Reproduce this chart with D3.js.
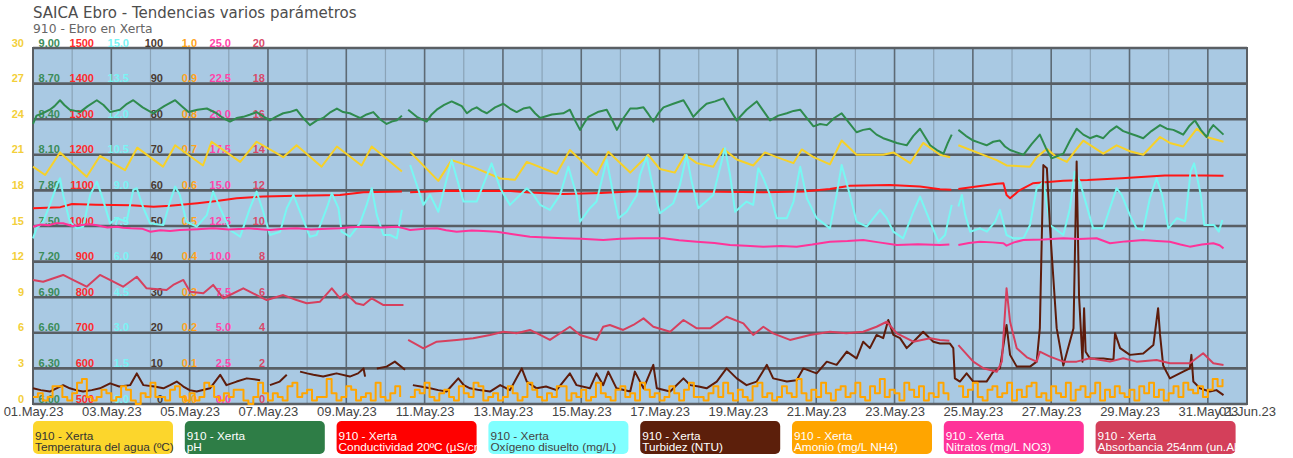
<!DOCTYPE html>
<html><head><meta charset="utf-8">
<script src="https://cdn.jsdelivr.net/npm/d3@7"></script>
<style>
body{margin:0;background:#fff;}
svg{display:block;}
</style></head><body>
<svg id="chart" width="1293" height="458"></svg>
<script>
// ---------------- DATA (time = days since 01.May.2023 00:00) ----------------
const titulo = "SAICA Ebro - Tendencias varios parámetros";
const subtitulo = "910 - Ebro en Xerta";
const estacion = "910 - Xerta";
const parametros = ["Temperatura del agua (ºC)","pH","Conductividad 20ºC (µS/cm)","Oxígeno disuelto (mg/L)","Turbidez (NTU)","Amonio (mg/L NH4)","Nitratos (mg/L NO3)","Absorbancia 254nm (un.Abs/m)"];

const temperatura = [[0,20.0],[0.31,19.3],[0.69,21.2],[1.37,19.15],[1.71,20.9],[2.35,19.7],[2.66,21.6],[3.32,20.0],[3.63,21.8],[4.34,20.1],[4.56,22.1],[5.29,20.4],[5.71,22.1],[6.39,20.8],[6.73,21.8],[7.37,20.0],[7.76,21.7],[8.39,20.1],[8.65,21.7],[9.42,19.6],[9.5,null],[9.63,21.25],[10.35,18.8],[10.69,20.55],[11.29,19.9],[11.93,19.0],[12.31,18.9],[12.61,20.4],[13.37,19.4],[13.71,21.4],[14.39,19.3],[14.69,21.25],[15.25,19.5],[15.71,21.0],[16.01,19.8],[16.39,19.5],[16.65,21.0],[16.95,20.3],[17.37,20.0],[17.63,21.5],[17.97,20.6],[18.39,20.1],[18.69,21.2],[18.99,20.8],[19.42,20.3],[19.63,21.45],[19.93,20.8],[20.35,20.2],[20.65,22.2],[21.03,21.0],[21.71,21.0],[21.97,21.2],[22.40,20.3],[22.73,22.0],[23.16,21.0],[23.42,20.8],[23.5,null],[23.63,21.8],[24.18,21.1],[24.61,20.55],[24.86,20.1],[25.46,20.0],[25.63,20.8],[25.89,21.5],[26.14,20.8],[26.40,20.4],[26.65,21.5],[26.82,22.2],[27.33,21.1],[27.67,21.8],[28.01,21.3],[28.35,21.0],[28.78,22.5],[29.03,22.0],[29.37,21.7],[29.72,23.2],[29.97,22.5],[30.40,22.1]];

const ph = [[0,8.36],[0.09,8.43],[0.25,8.45],[0.43,8.48],[0.55,8.51],[0.69,8.56],[0.8,8.52],[0.94,8.48],[1.08,8.47],[1.20,8.46],[1.4,8.51],[1.63,8.56],[1.8,8.52],[1.97,8.46],[2.1,8.47],[2.22,8.48],[2.4,8.53],[2.56,8.56],[2.8,8.50],[3.07,8.45],[3.35,8.51],[3.63,8.56],[3.8,8.51],[3.97,8.46],[4.2,8.48],[4.44,8.49],[4.69,8.45],[4.85,8.41],[5.03,8.38],[5.2,8.41],[5.37,8.42],[5.55,8.44],[5.71,8.46],[5.9,8.42],[6.05,8.39],[6.2,8.42],[6.39,8.45],[6.55,8.46],[6.73,8.48],[6.9,8.41],[7.07,8.35],[7.25,8.39],[7.41,8.41],[7.6,8.46],[7.76,8.49],[7.92,8.46],[8.09,8.45],[8.22,8.43],[8.35,8.41],[8.52,8.44],[8.69,8.46],[8.86,8.40],[9.03,8.36],[9.16,8.38],[9.29,8.39],[9.42,8.43],[9.5,null],[9.58,8.48],[9.80,8.42],[10.05,8.38],[10.18,8.44],[10.31,8.48],[10.5,8.52],[10.69,8.55],[10.82,8.53],[10.95,8.51],[11.08,8.45],[11.2,8.48],[11.33,8.50],[11.46,8.47],[11.59,8.45],[11.8,8.50],[12.01,8.53],[12.18,8.49],[12.35,8.46],[12.52,8.49],[12.69,8.50],[12.82,8.45],[12.95,8.41],[13.25,8.44],[13.54,8.45],[13.71,8.48],[13.84,8.39],[13.97,8.31],[14.08,8.37],[14.18,8.42],[14.42,8.46],[14.65,8.48],[14.78,8.40],[14.91,8.31],[15.08,8.41],[15.25,8.49],[15.42,8.49],[15.59,8.50],[15.72,8.44],[15.84,8.38],[15.97,8.45],[16.10,8.50],[16.35,8.53],[16.61,8.56],[16.74,8.49],[16.86,8.42],[17.03,8.48],[17.20,8.53],[17.42,8.55],[17.63,8.575],[17.8,8.48],[17.97,8.39],[18.22,8.48],[18.48,8.55],[18.65,8.47],[18.82,8.39],[19.03,8.43],[19.25,8.45],[19.42,8.47],[19.59,8.48],[19.76,8.41],[19.93,8.34],[20.1,8.36],[20.27,8.35],[20.46,8.41],[20.65,8.45],[20.84,8.37],[21.03,8.29],[21.2,8.31],[21.37,8.32],[21.54,8.27],[21.71,8.24],[21.88,8.22],[22.06,8.20],[22.18,8.19],[22.31,8.18],[22.48,8.26],[22.65,8.32],[22.78,8.25],[22.91,8.18],[23.08,8.14],[23.25,8.11],[23.36,8.20],[23.46,8.27],[23.5,null],[23.63,8.31],[23.82,8.26],[24.01,8.22],[24.18,8.20],[24.35,8.18],[24.52,8.21],[24.69,8.22],[24.82,8.17],[24.95,8.14],[25.12,8.12],[25.29,8.10],[25.5,8.19],[25.71,8.27],[25.86,8.16],[26.01,8.07],[26.16,8.09],[26.31,8.11],[26.48,8.22],[26.65,8.32],[26.82,8.27],[26.99,8.24],[27.16,8.26],[27.33,8.24],[27.5,8.30],[27.67,8.34],[27.84,8.30],[28.01,8.28],[28.18,8.26],[28.35,8.24],[28.56,8.30],[28.78,8.35],[28.95,8.32],[29.12,8.31],[29.25,8.29],[29.37,8.27],[29.52,8.34],[29.67,8.39],[29.82,8.31],[29.97,8.25],[30.05,8.31],[30.14,8.35],[30.27,8.31],[30.40,8.27]];

const conductividad = [[0,1050],[0.7,1053],[1.0,1062],[1.6,1060],[2.5,1058],[3.08,1054],[3.5,1057],[4.2,1064],[4.69,1070],[5.2,1078],[5.88,1083],[6.73,1085],[7.84,1087],[8.0,1089],[8.44,1095],[9.42,1097],[9.5,null],[9.63,1095],[10.56,1099],[12.2,1098],[12.69,1094],[13.54,1090],[14.5,1093],[15.25,1097],[17.0,1097],[18.65,1095],[19.67,1097],[20.35,1104],[20.86,1113],[21.88,1115],[22.65,1111],[23.16,1103],[23.45,1102],[23.5,null],[23.63,1104],[24.61,1119],[24.78,1120],[24.86,1087],[24.95,1078],[25.2,1101],[25.53,1120],[26.31,1127],[26.93,1129],[27.8,1134],[28.9,1142],[29.9,1142],[30.4,1141]];

const oxigeno = [[0,6.98],[0.09,7.40],[0.26,7.68],[0.43,8.39],[0.61,9.23],[0.69,9.51],[0.77,8.81],[0.94,7.68],[1.12,7.40],[1.28,7.47],[1.46,8.81],[1.63,9.37],[1.75,8.81],[1.97,7.61],[2.14,7.83],[2.39,7.68],[2.56,9.02],[2.65,9.09],[2.82,8.25],[2.99,7.61],[3.33,7.54],[3.50,8.53],[3.63,9.16],[3.75,8.81],[3.92,7.68],[4.18,7.47],[4.44,7.96],[4.60,8.95],[4.78,8.25],[5.03,7.33],[5.29,7.05],[5.54,8.25],[5.71,8.95],[5.88,8.10],[6.05,7.12],[6.31,7.26],[6.48,8.25],[6.65,8.81],[6.82,8.10],[7.07,7.05],[7.24,7.12],[7.50,8.25],[7.63,8.88],[7.80,8.25],[7.88,7.26],[8.09,7.05],[8.35,7.61],[8.52,8.39],[8.65,9.09],[8.78,7.96],[8.95,7.12],[9.12,7.12],[9.29,6.98],[9.42,8.18],[9.5,null],[9.63,10.07],[9.97,8.39],[10.14,8.81],[10.35,8.10],[10.69,10.28],[10.99,8.53],[11.33,8.53],[11.71,10.14],[11.93,9.09],[12.18,8.39],[12.61,9.09],[12.78,8.81],[12.95,8.39],[13.20,8.18],[13.46,8.81],[13.67,10.0],[13.88,8.81],[13.97,7.68],[14.22,8.25],[14.39,8.53],[14.65,10.28],[14.82,8.81],[14.95,7.83],[15.16,8.10],[15.42,8.81],[15.50,9.65],[15.67,10.42],[15.80,9.37],[16.01,8.04],[16.35,8.46],[16.52,9.23],[16.69,10.49],[16.82,9.37],[16.99,8.25],[17.37,8.81],[17.54,9.93],[17.67,10.78],[17.80,9.65],[17.93,8.10],[18.22,8.53],[18.39,8.39],[18.52,9.93],[18.65,9.51],[18.82,8.81],[18.99,7.83],[19.25,7.83],[19.42,8.53],[19.59,10.0],[19.76,8.67],[20.01,7.83],[20.35,7.40],[20.52,8.81],[20.65,10.07],[20.86,8.81],[21.03,7.68],[21.29,7.47],[21.46,7.83],[21.63,8.18],[21.80,7.83],[21.97,7.26],[22.22,6.98],[22.48,8.10],[22.65,8.74],[22.91,7.68],[23.12,6.84],[23.29,7.12],[23.46,8.39],[23.5,null],[23.63,8.32],[23.72,8.81],[23.80,8.0],[23.93,7.26],[24.18,7.40],[24.36,7.26],[24.57,7.68],[24.69,8.18],[24.86,7.12],[25.03,6.98],[25.29,6.98],[25.46,7.54],[25.63,9.09],[25.80,9.37],[25.97,7.54],[26.31,7.12],[26.48,8.25],[26.60,9.79],[26.73,9.37],[26.90,8.39],[27.07,7.40],[27.33,7.40],[27.50,8.25],[27.67,9.09],[27.80,8.81],[28.01,7.96],[28.18,7.40],[28.35,7.33],[28.52,8.67],[28.69,9.51],[28.83,8.81],[28.99,7.40],[29.21,7.83],[29.42,7.70],[29.56,9.79],[29.65,10.14],[29.82,8.81],[29.91,7.54],[30.16,7.54],[30.28,7.26],[30.37,7.75]];

const turbidez = [[0,4.4],[0.2,3.9],[0.43,3.5],[0.6,4.4],[0.77,5.3],[0.94,4.4],[1.1,3.9],[1.28,3.5],[1.5,3.9],[1.71,4.4],[1.97,5.8],[2.2,4.9],[2.48,5.3],[2.65,8.6],[2.82,5.3],[3.1,4.9],[3.33,4.4],[3.5,5.3],[3.67,6.3],[3.84,4.9],[4.0,3.9],[4.18,3.5],[4.52,4.4],[4.78,8.2],[4.94,5.3],[5.20,6.3],[5.46,7.2],[5.80,6.7],[5.9,null],[6.05,5.3],[6.3,6.3],[6.48,8.2],[6.6,null],[6.82,9.1],[7.0,8.6],[7.16,8.2],[7.41,7.7],[7.6,8.2],[7.75,8.6],[8.09,7.7],[8.3,8.6],[8.44,10.0],[8.48,7.7],[8.6,null],[8.78,10.0],[9.03,10.5],[9.24,11.9],[9.50,9.6],[9.55,null],[9.70,5.3],[9.9,4.9],[10.14,4.4],[10.35,3.9],[10.56,3.5],[10.86,7.2],[11.0,5.3],[11.16,4.4],[11.4,3.9],[11.67,3.5],[11.93,5.3],[12.18,3.9],[12.48,10.0],[12.61,6.3],[12.86,4.4],[13.1,4.9],[13.37,3.9],[13.71,8.6],[13.88,5.3],[14.22,4.4],[14.39,8.6],[14.56,5.3],[14.69,9.1],[14.90,4.4],[15.25,3.5],[15.37,9.1],[15.59,4.4],[15.84,11.0],[15.93,4.4],[16.27,3.5],[16.61,7.2],[16.78,5.3],[17.0,4.9],[17.20,4.4],[17.46,6.3],[17.71,10.0],[17.97,7.2],[18.22,5.3],[18.48,6.3],[18.74,11.0],[18.90,7.2],[19.25,6.3],[19.50,6.7],[19.67,10.0],[20.01,8.6],[20.27,11.9],[20.52,11.0],[20.78,14.7],[21.03,12.8],[21.20,17.5],[21.37,15.7],[21.54,19.4],[21.71,18.5],[21.84,23.6],[21.97,19.4],[22.14,18.5],[22.31,15.7],[22.48,17.5],[22.73,20.3],[22.99,17.5],[23.16,17.0],[23.41,17.0],[23.50,15.7],[23.54,7.2],[23.67,6.3],[23.84,8.6],[24.01,6.3],[24.35,6.3],[24.52,9.1],[24.69,10.0],[24.86,22.2],[24.95,13.8],[25.12,10.5],[25.46,10.5],[25.63,11.9],[25.71,21.3],[25.80,67.1],[25.89,66.2],[25.97,49.4],[26.14,21.3],[26.31,10.8],[26.57,21.3],[26.65,68.1],[26.71,30.6],[26.80,11.9],[26.84,26.9],[26.88,14.7],[26.99,12.8],[27.33,12.8],[27.59,12.4],[27.63,19.9],[27.76,15.7],[28.01,13.8],[28.35,14.2],[28.61,16.6],[28.73,26.9],[28.78,19.4],[28.86,10.8],[29.03,7.2],[29.37,9.1],[29.54,10.0],[29.58,13.8],[29.63,6.3],[29.80,4.4],[30.05,3.5],[30.22,3.9],[30.40,2.5]];

// Amonio: one value every 3 hours from 01.May 00:00
const amonio = [
0.02,0.03,0.01,0.02,0.05,0.05,0.02,0.01, 0.03,0.06,0.07,0.02,0.01,0.02,0.04,0.03,
0.01,0.02,0.05,0.04,0.01,0.00,0.03,0.02, 0.06,0.02,0.02,0.01,0.04,0.05,0.02,0.01,
0.03,0.01,0.02,0.06,0.05,0.02,0.01,0.03, 0.02,0.04,0.04,0.01,0.00,0.02,0.06,0.03,
0.01,0.03,0.02,0.01,0.05,0.06,0.02,0.03, 0.04,0.01,0.02,0.02,0.07,0.03,0.01,0.02,
0.05,0.04,0.01,0.02,0.03,0.01,0.06,0.02, 0.01,0.03,0.05,0.02,null,0.02,0.04,0.03,
0.06,0.02,0.01,0.03,0.04,0.02,0.01,0.05, 0.03,0.02,0.06,0.05,0.01,0.02,0.03,0.01,
0.02,0.05,0.03,0.01,0.02,0.06,0.04,0.02, 0.01,0.03,0.02,0.05,0.05,0.01,0.03,0.02,
0.04,0.01,0.02,0.06,0.03,0.02,0.01,0.04, 0.05,0.02,0.03,0.01,0.06,0.04,0.02,0.03,
0.01,0.02,0.05,0.03,0.01,0.04,0.06,0.02, 0.02,0.01,0.03,0.05,0.02,0.06,0.03,0.01,
0.04,0.02,0.01,0.05,0.06,0.02,0.03,0.01, 0.02,0.05,0.03,0.02,0.07,0.03,0.01,0.04,
0.02,0.06,0.03,0.01,0.04,0.05,0.02,0.03, 0.06,0.02,0.01,0.05,0.03,0.07,0.02,0.04,
0.03,0.01,0.06,0.04,0.02,0.05,0.01,0.03, 0.02,0.06,0.03,0.01,null,0.05,0.02,0.04,
0.06,0.02,0.01,0.04,0.05,0.02,0.03,0.06, 0.01,0.04,0.02,0.05,0.06,0.02,0.03,0.01,
0.05,0.03,0.02,0.06,0.01,0.04,0.05,0.02, 0.03,0.06,0.01,0.04,0.02,0.05,0.03,0.02,
0.04,0.01,0.05,0.03,0.06,0.02,0.04,0.01, 0.03,0.05,0.02,0.06,0.04,0.03,0.05,0.02,
0.04,0.07,0.05,0.07];
const amonioPasoHoras = 3;

const nitratos = [[0,12.45],[0.2,12.6],[0.4,12.55],[0.6,12.7],[0.77,12.69],[1.0,12.5],[1.2,12.55],[1.4,12.62],[1.6,12.57],[1.9,12.4],[2.14,12.45],[2.3,12.38],[2.5,12.34],[2.8,12.30],[3.0,12.10],[3.25,12.2],[3.5,12.15],[3.75,12.22],[4.2,12.28],[4.6,12.34],[5.0,12.25],[5.4,12.30],[5.5,12.34],[6.05,12.22],[6.4,12.3],[6.73,12.34],[7.1,12.25],[7.5,12.30],[7.84,12.34],[8.1,12.42],[8.44,12.45],[8.9,12.4],[9.29,12.45],[9.45,12.35],[9.63,12.22],[10.0,12.3],[10.31,12.34],[10.55,12.2],[10.82,12.10],[11.2,12.18],[11.5,12.15],[11.84,12.10],[12.3,11.9],[12.69,11.75],[13.1,11.7],[13.54,11.64],[14.0,11.6],[14.56,11.52],[15.0,11.6],[15.5,11.64],[16.1,11.64],[16.5,11.5],[16.95,11.40],[17.4,11.3],[17.8,11.17],[18.2,11.12],[18.65,11.05],[19.1,11.1],[19.5,11.05],[19.9,11.2],[20.35,11.40],[20.8,11.45],[21.2,11.52],[21.6,11.35],[22.06,11.17],[22.6,11.22],[23.16,11.17],[23.4,11.2],[23.5,null],[23.63,11.17],[23.9,11.3],[24.18,11.40],[24.5,11.35],[24.78,11.29],[24.86,11.12],[25.05,11.35],[25.29,11.52],[25.8,11.55],[26.31,11.64],[26.7,11.58],[27.16,11.64],[27.5,11.29],[27.9,11.42],[28.35,11.52],[28.7,11.45],[29.03,11.40],[29.3,11.2],[29.54,11.05],[29.85,11.2],[30.14,11.29],[30.3,11.15],[30.4,10.93]];

const absorbancia = [[0,6.97],[0.26,6.87],[0.77,7.25],[1.02,6.97],[1.37,6.59],[1.71,7.25],[2.05,6.87],[2.30,6.59],[2.65,7.15],[2.90,6.50],[3.41,6.40],[3.58,6.69],[3.84,6.97],[4.01,6.31],[4.35,6.22],[4.60,6.69],[4.86,5.94],[5.37,6.50],[5.71,6.12],[5.97,5.84],[6.39,6.12],[6.73,5.84],[6.99,5.66],[7.33,5.75],[7.63,6.50],[7.84,5.94],[7.99,6.22],[8.25,5.66],[8.44,5.56],[8.65,5.94],[8.95,5.56],[9.46,5.56],[9.5,null],[9.58,3.60],[9.97,3.13],[10.31,3.50],[10.82,3.60],[11.24,3.69],[11.67,3.88],[12.01,4.06],[12.35,3.97],[12.69,4.16],[12.95,3.88],[13.20,3.60],[13.71,4.34],[13.97,3.88],[14.39,3.60],[14.56,4.34],[14.73,4.44],[15.07,4.16],[15.33,4.44],[15.59,4.81],[15.84,4.34],[16.27,4.06],[16.61,4.72],[16.95,4.25],[17.29,4.25],[17.71,4.90],[18.14,4.53],[18.39,3.88],[18.65,4.34],[18.90,3.97],[19.33,3.60],[19.84,3.88],[20.35,4.06],[20.77,3.97],[21.20,4.06],[21.54,4.34],[21.80,4.62],[22.06,3.97],[22.48,3.50],[22.91,3.69],[23.16,3.60],[23.4,3.55],[23.5,null],[23.63,3.31],[24.01,2.38],[24.27,2.01],[24.61,1.81],[24.74,2.38],[24.86,6.50],[24.95,4.62],[25.12,3.13],[25.38,2.62],[25.63,2.38],[25.71,2.94],[25.97,2.66],[26.31,2.38],[26.65,2.38],[26.99,2.57],[27.50,2.38],[27.84,2.57],[28.18,2.38],[28.69,2.47],[29.03,2.29],[29.54,2.29],[29.88,2.85],[30.14,2.29],[30.40,2.19]];

// Tick labels of the eight left-hand scales (bottom to top)
const ejeTemp = [0,3,6,9,12,15,18,21,24,27,30];
const ejePH = [6.00,6.30,6.60,6.90,7.20,7.50,7.80,8.10,8.40,8.70,9.00];
const ejeCond = [500,600,700,800,900,1000,1100,1200,1300,1400,1500];
const ejeOxi = [0,1.5,3.0,4.5,6.0,7.5,9.0,10.5,12.0,13.5,15.0];
const ejeTurb = [0,10,20,30,40,50,60,70,80,90,100];
const ejeAmon = [0,0.1,0.2,0.3,0.4,0.5,0.6,0.7,0.8,0.9,1.0];
const ejeNitr = [0,2.5,5.0,7.5,10.0,12.5,15.0,17.5,20.0,22.5,25.0];
const ejeAbs = [0,2,4,6,8,10,12,14,16,18,20];

// ---------------- CHART ----------------
const W = 1293, H = 458;
const M = {l:33, r:1247, t:48, b:404};
const t0 = Date.UTC(2023,4,1), t1 = Date.UTC(2023,5,1);
const toDate = d => new Date(t0 + d*864e5);
const x = d3.scaleUtc().domain([t0, t1]).range([M.l, M.r]);

const svg = d3.select("#chart");
const SANS = "'Liberation Sans', Arial, sans-serif";
const WIDE = "'DejaVu Sans', Verdana, sans-serif";

svg.append("text").attr("x",33).attr("y",18).attr("font-family",WIDE).attr("font-size",15)
  .attr("fill","#4d4d4d").text(titulo);
svg.append("text").attr("x",33).attr("y",33).attr("font-family",WIDE).attr("font-size",12.3)
  .attr("fill","#666").text(subtitulo);

// plot background
svg.append("rect").attr("x",M.l).attr("y",M.t).attr("width",M.r-M.l).attr("height",M.b-M.t).attr("fill","#a9c9e3");

const series = [
  {data:temperatura, dom:[0,30], ticks:ejeTemp, fmt:d3.format("d"), ax:24, line:"#f7d128", lab:"#f3cf3a", box:"#fcd62c", txt:"#333"},
  {data:ph, dom:[6,9], ticks:ejePH, fmt:d3.format(".2f"), ax:60, line:"#2f8b4e", lab:"#3b8c59", box:"#2e7d46", txt:"#fff"},
  {data:conductividad, dom:[500,1500], ticks:ejeCond, fmt:d3.format("d"), ax:94, line:"#ff1616", lab:"#ff2b2b", box:"#ff0000", txt:"#fff"},
  {data:oxigeno, dom:[0,15], ticks:ejeOxi, fmt:d3.format(".1f"), ax:129, line:"#78f7f2", lab:"#7af4f4", box:"#80ffff", txt:"#444"},
  {data:turbidez, dom:[0,100], ticks:ejeTurb, fmt:d3.format("d"), ax:163, line:"#5e1c0b", lab:"#4a3a31", box:"#5c1f0b", txt:"#fff"},
  {data:amonio.map((v,i)=>[i*amonioPasoHoras/24, v]), dom:[0,1], ticks:ejeAmon, fmt:d3.format(".1f"), ax:197, line:"#ffa500", lab:"#ffa31a", box:"#ffa500", txt:"#fff", step:true},
  {data:nitratos, dom:[0,25], ticks:ejeNitr, fmt:d3.format(".1f"), ax:231, line:"#ff3399", lab:"#ff45a8", box:"#ff3399", txt:"#fff"},
  {data:absorbancia, dom:[0,20], ticks:ejeAbs, fmt:d3.format("d"), ax:265, line:"#d6405e", lab:"#d84a68", box:"#d43f5a", txt:"#fff"}
];
series.forEach((s,i)=>{ s.y = d3.scaleLinear().domain(s.dom).range([M.b, M.t]); s.name = parametros[i]; });

// grid: vertical day lines (odd days darker)
const days = d3.utcDay.range(new Date(t0), new Date(t1+1));
svg.append("g").selectAll("line").data(days).join("line")
  .attr("x1",d=>x(d)).attr("x2",d=>x(d)).attr("y1",M.t).attr("y2",M.b)
  .attr("stroke",d=> d.getUTCDate()%2===1 ? "#5d6a75" : "#8aa3b7")
  .attr("stroke-width",d=> d.getUTCDate()%2===1 ? 1.6 : 1.2);
// grid: horizontal lines
const yT = series[0].y;
svg.append("g").selectAll("line").data(ejeTemp).join("line")
  .attr("x1",M.l).attr("x2",M.r).attr("y1",d=>yT(d)).attr("y2",d=>yT(d))
  .attr("stroke","#585e64").attr("stroke-width",2.6);
svg.append("rect").attr("x",M.l).attr("y",M.t).attr("width",M.r-M.l).attr("height",M.b-M.t)
  .attr("fill","none").attr("stroke","#5a5f64").attr("stroke-width",2);

// y-axis labels (8 scales)
series.forEach(s=>{
  const g = svg.append("g").attr("transform",`translate(${s.ax},0)`)
    .call(d3.axisLeft(s.y).tickValues(s.ticks).tickFormat(s.fmt).tickSize(0).tickPadding(0));
  g.select(".domain").remove();
  g.selectAll("text").attr("dy",-2).attr("fill",s.lab)
    .attr("font-family",SANS).attr("font-size",11).attr("font-weight","bold");
});

// lines
series.forEach(s=>{
  const line = d3.line().defined(p=>p[1]!=null)
    .x(p=>x(toDate(p[0]))).y(p=>s.y(p[1]))
    .curve(s.step ? d3.curveStepAfter : d3.curveLinear);
  svg.append("path").datum(s.data).attr("d",line).attr("fill","none")
    .attr("stroke",s.line).attr("stroke-width",2).attr("stroke-linejoin","round");
});

// x axis (every 2 days; last label kept inside the picture)
const xt = d3.utcDay.every(2).range(new Date(t0), new Date(t1 + 2*864e5));
const fmtX = d3.utcFormat("%d.%b.%y");
const gx = svg.append("g").attr("transform",`translate(0,${M.b})`)
  .call(d3.axisBottom(x).tickValues(xt).tickFormat(fmtX).tickSize(0).tickPadding(3));
gx.select(".domain").remove();
gx.selectAll("text").attr("font-family",SANS).attr("font-size",13).attr("fill","#444");
gx.selectAll(".tick").filter(d=> +d > t1).attr("transform",`translate(${W-3},0)`)
  .select("text").attr("text-anchor","end");

// legend
const lg = svg.append("g");
series.forEach((s,i)=>{
  const bx = 33 + i*151.8, by = 421, bw = 140, bh = 33;
  const clipId = "clip"+i;
  svg.append("clipPath").attr("id",clipId).append("rect").attr("x",bx).attr("y",by).attr("width",bw+4).attr("height",bh);
  const g = lg.append("g");
  g.append("rect").attr("x",bx).attr("y",by).attr("width",bw).attr("height",bh).attr("rx",5).attr("fill",s.box);
  const t = g.append("text").attr("clip-path",`url(#${clipId})`).attr("font-family",SANS).attr("font-size",11.8).attr("fill",s.txt);
  t.append("tspan").attr("x",bx+2).attr("y",by+19).text(estacion);
  t.append("tspan").attr("x",bx+2).attr("y",by+30).text(s.name);
});
</script></body></html>
